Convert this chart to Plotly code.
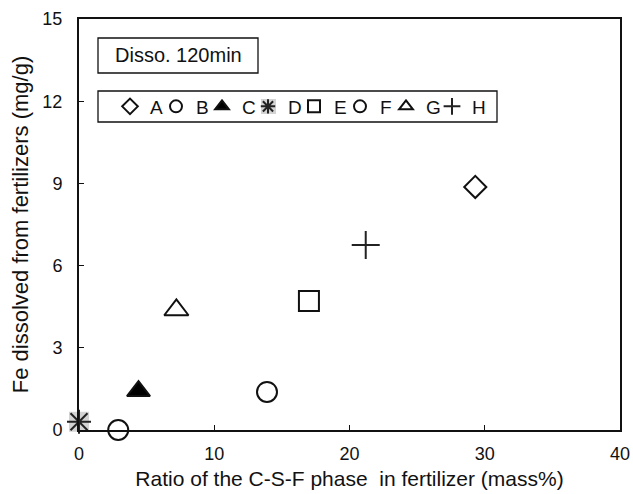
import plotly.graph_objects as go

names = ["A", "B", "C", "D", "E", "F", "G", "H"]
ratio = [29.3, 2.9, 4.4, 0.0, 17.0, 13.9, 7.2, 21.2]
fe = [8.87, 0.0, 1.42, 0.3, 4.71, 1.39, 4.38, 6.75]
symbols = ["diamond", "circle", "triangle-up", "asterisk-open", "square", "circle", "triangle-up", "cross-thin-open"]
fills = ["white", "white", "black", "#222", "white", "white", "white", "#222"]
sizes = [17, 20, 20, 20, 20, 20, 21, 20]

x_ticks = [0, 10, 20, 30, 40]
y_ticks = [0, 3, 6, 9, 12, 15]

FONT = "Liberation Sans, Arial"

# plot-area geometry (pixels) used to convert box positions to paper coords
L, R, T, B = 79, 620, 19, 430
def px(x):
    return (x - L) / (R - L)
def py(y):
    return (B - y) / (B - T)

fig = go.Figure()

# gray square background for D
fig.add_trace(go.Scatter(
    x=[ratio[3]], y=[fe[3]], mode="markers", showlegend=False,
    marker=dict(symbol="square", size=20, color="#d3d3d3", line=dict(width=0)),
    cliponaxis=False, hoverinfo="skip"))

for i, n in enumerate(names):
    marker = dict(symbol=symbols[i], size=sizes[i], color=fills[i],
                  line=dict(color="#111", width=2))
    fig.add_trace(go.Scatter(x=[ratio[i]], y=[fe[i]], mode="markers", name=n,
                             marker=marker, cliponaxis=False))

# empty trailing legend entry so the last label is not clipped
fig.add_trace(go.Scatter(x=[None], y=[None], mode="markers", name="", opacity=0,
                         marker=dict(size=1, color="rgba(0,0,0,0)", line=dict(width=0)),
                         hoverinfo="skip"))

# "Disso. 120min" text box
fig.add_shape(type="rect", xref="paper", yref="paper",
              x0=px(98), x1=px(258), y0=py(73), y1=py(38),
              line=dict(color="#111", width=1.3), fillcolor="white", layer="above")
fig.add_annotation(text="Disso. 120min", xref="paper", yref="paper",
                   x=(px(98) + px(258)) / 2, y=(py(73) + py(38)) / 2,
                   xanchor="center", yanchor="middle", showarrow=False,
                   font=dict(size=20, color="#111", family=FONT))

# legend frame
fig.add_shape(type="rect", xref="paper", yref="paper",
              x0=px(98), x1=px(497), y0=py(122), y1=py(91),
              line=dict(color="#111", width=1.3), fillcolor="white", layer="above")
# gray background of the D legend symbol
fig.add_shape(type="rect", xref="paper", yref="paper",
              x0=px(261), x1=px(276), y0=py(114), y1=py(99),
              line=dict(width=0), fillcolor="#d3d3d3", layer="above")

fig.update_layout(
    width=633, height=494,
    margin=dict(l=L, r=633 - R, t=T, b=494 - B),
    paper_bgcolor="white", plot_bgcolor="white",
    font=dict(family=FONT, size=18, color="#111"),
    showlegend=True,
    legend=dict(orientation="h", x=px(110), y=py(106.5), xanchor="left", yanchor="middle",
                borderwidth=0, bgcolor="rgba(0,0,0,0)",
                itemsizing="constant", font=dict(size=19),
                entrywidth=1, entrywidthmode="pixels", tracegroupgap=0),
    xaxis=dict(range=[0, 40], tickvals=x_ticks, showline=True, linecolor="#111",
               linewidth=2, mirror=True, ticks="inside", ticklen=5, tickcolor="#111",
               showgrid=False, zeroline=False, automargin=False, ticklabelstandoff=6,
               title=dict(text="Ratio of the C-S-F phase  in fertilizer (mass%)", standoff=9,
                          font=dict(size=21))),
    yaxis=dict(range=[0, 15], tickvals=y_ticks, showline=True, linecolor="#111",
               linewidth=2, mirror=True, ticks="inside", ticklen=5, tickcolor="#111",
               showgrid=False, zeroline=False, automargin=False, ticklabelstandoff=11,
               title=dict(text="Fe dissolved from fertilizers (mg/g)", standoff=8,
                          font=dict(size=22))),
)

fig.write_html("out.html")
